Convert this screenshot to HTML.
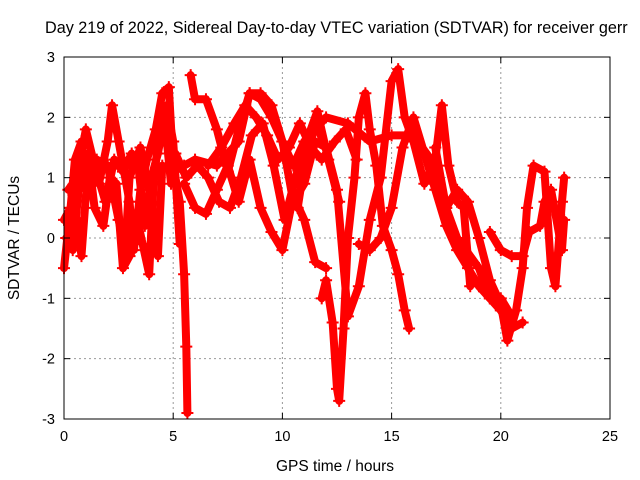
<!DOCTYPE html>
<html><head><meta charset="utf-8"><style>
body{margin:0;background:#fff}
svg{display:block;font-family:"Liberation Sans",sans-serif}
</style></head><body>
<svg id="chart" width="640" height="480">
<rect x="0" y="0" width="640" height="480" fill="#fff"/>
<text x="45" y="33" font-size="16.2" fill="#000">Day 219 of 2022, Sidereal Day-to-day VTEC variation (SDTVAR) for receiver gerr</text>
<g id="grid"></g><g id="series"></g><g id="axes"></g>
<text x="335" y="471" font-size="15.5" text-anchor="middle">GPS time / hours</text>
<text transform="translate(19,238) rotate(-90)" font-size="15.5" text-anchor="middle">SDTVAR / TECUs</text>
</svg>
<script>
const xTicks=[0,5,10,15,20,25];
const yTicks=[-3,-2,-1,0,1,2,3];
const s1=[[0,0.3],[0.3,0.5],[0.5,1.3],[0.8,1.6],[1,0.8],[1.3,1.1],[1.6,0.9],[2,1.6],[2.2,2.2],[2.5,1.6],[3,0.6],[3.2,-0.2],[3.5,0.8],[3.8,1.3],[4.2,1.8],[4.5,2.4],[4.8,2.5],[5,1.2],[5.3,0.6],[5.5,-0.6],[5.6,-1.8],[5.65,-2.9]];
const s2=[[0,-0.5],[0.3,0.5],[0.6,0.3],[0.8,-0.3],[1,0.7],[1.5,1.3],[2,1.2],[2.5,0.3],[2.8,-0.2],[3,1.0],[3.5,1.5],[4,0.6],[4.3,-0.3],[4.5,1.2],[5,1.1],[5.5,1.2],[6,1.3],[7,1.2],[8,1.6],[8.5,2.4],[9,2.3],[9.5,2.0],[10,1.6],[10.5,1.2],[11,1.6],[12,2.0],[13,1.9],[14,1.6],[15,1.7],[16,1.7],[17,1.2],[17.5,0.5],[18,0.0],[19,-0.5],[19.5,-1.0],[20,-1.2],[20.5,-1.5],[21,-1.4]];
const s3=[[5.8,2.7],[6,2.3],[6.5,2.3],[7,1.8],[7.5,1.1],[8,1.8],[8.5,2.4],[9,2.4],[9.5,2.2],[10,1.6],[10.5,0.6],[11,0.9],[11.5,1.6],[12,1.5]];
const s4=[[5.5,0.9],[6,0.5],[6.5,0.4],[7,0.8],[7.5,1.2],[8,0.6],[8.5,1.3],[9,0.5],[9.5,0.1],[10,-0.2],[10.5,0.7],[11,0.3],[11.5,-0.4],[12,-0.5]];
const s5=[[11.8,-1.0],[12,-0.7],[12.3,-1.4],[12.5,-2.5],[12.6,-2.7],[12.8,-1.5],[13,0.0],[13.3,1.0],[13.5,2.0],[13.8,2.4],[14,1.8],[14.3,1.2],[14.6,0.2],[15,-0.2],[15.3,-0.6],[15.6,-1.2],[15.8,-1.5]];
const s6=[[10.7,0.5],[11,1.2],[11.5,1.9],[12,1.5],[12.5,0.8],[13,-1.3],[13.5,-0.8],[14,0.3],[14.5,1.0],[15,2.6],[15.3,2.8],[15.6,2.0],[16,1.6],[16.5,0.9],[17,1.3],[17.3,2.2],[17.6,1.2],[18,0.6],[18.3,0.5],[18.6,-0.8]];
const s7=[[13.5,-0.1],[14,-0.2],[14.5,0.0],[15,0.5],[15.5,1.5],[16,2.0],[16.5,1.4],[17,0.8],[17.5,0.2],[18,-0.2],[18.5,-0.5],[19,-0.8],[19.5,-1.0],[20,-1.0],[20.5,-1.3]];
const s8=[[17,1.5],[17.5,0.5],[18,0.8],[18.5,0.6],[19,0.0],[19.5,-0.7],[20,-1.1],[20.3,-1.7],[20.7,-1.2],[21,-0.5],[21.2,0.5],[21.5,1.2],[22,1.1],[22.3,-0.5],[22.5,-0.8],[22.8,0.6],[22.9,1.0]];
const s9=[[19.5,0.1],[20,-0.2],[20.5,-0.3],[21,-0.3],[21.3,0.1],[21.8,0.2],[22,0.6],[22.3,0.8],[22.8,-0.2],[22.9,0.3]];
const s10=[[0.1,0.0],[0.4,-0.2],[0.7,0.9],[1.1,1.4],[1.4,0.5],[1.8,0.2],[2.1,1.0],[2.4,0.9],[2.7,-0.5],[3,-0.3],[3.3,0.4],[3.6,-0.1],[3.9,-0.6],[4.1,0.9],[4.4,1.9],[4.7,2.2],[5,1.6],[5.3,-0.1]];
const s11=[[0.2,0.8],[0.6,1.0],[1,1.8],[1.4,1.2],[1.9,0.6],[2.3,1.3],[2.7,1.1],[3.1,1.4],[3.4,1.2],[3.7,0.2],[4.0,1.0],[4.3,1.4],[4.6,2.0],[4.9,0.9]];
const s12=[[6.6,1.2],[7.2,1.5],[7.8,1.9],[8.3,2.2],[8.8,2.0],[9.3,1.7],[9.8,1.3],[10.3,1.5],[10.8,1.9],[11.3,1.5],[11.8,1.3],[12.4,1.6],[12.9,1.8],[13.4,1.3]];
const s13=[[5.1,1.4],[5.6,1.0],[6.1,1.2],[6.6,1.0],[7.1,0.6],[7.6,0.5],[8.1,1.0],[8.6,1.7],[9.1,1.9],[9.6,1.2],[10.1,0.3],[10.6,1.0],[11.1,1.6],[11.6,2.1],[12.1,1.3],[12.6,0.6]];
const allSeries=[s1,s2,s3,s4,s5,s6,s7,s8,s9,s10,s11,s12,s13];
const X0=64,X1=610,Y0=419,Y1=57;
function xs(v){return X0+(v-0)/(25-0)*(X1-X0);}
function ys(v){return Y0-(v+3)/6*(Y0-Y1);}
const NS="http://www.w3.org/2000/svg";
function mk(t,a,p){const e=document.createElementNS(NS,t);for(const k in a)e.setAttribute(k,a[k]);p.appendChild(e);return e;}
const grid=document.getElementById('grid'),axes=document.getElementById('axes'),ser=document.getElementById('series');
xTicks.forEach(t=>{
 if(t>0&&t<25){const g=mk('line',{x1:xs(t),x2:xs(t),y1:Y1,y2:Y0,stroke:'#999','stroke-dasharray':'2,3'},grid);
 
 }
 const tl=mk('text',{x:xs(t),y:Y0+22,'font-size':14.5,'text-anchor':'middle'},axes);tl.textContent=t;
 
 
 mk('line',{x1:xs(t),x2:xs(t),y1:Y0,y2:Y0-6,stroke:'#000'},axes);
 mk('line',{x1:xs(t),x2:xs(t),y1:Y1,y2:Y1+6,stroke:'#000'},axes);
});
yTicks.forEach(t=>{
 if(t>-3&&t<3){const g=mk('line',{x1:X0,x2:X1,y1:ys(t),y2:ys(t),stroke:'#999','stroke-dasharray':'2,3'},grid);
 
 }
 const tl=mk('text',{x:X0-9,y:ys(t)+5,'font-size':14.5,'text-anchor':'end'},axes);tl.textContent=t;
 
 
 mk('line',{x1:X0,x2:X0+6,y1:ys(t),y2:ys(t),stroke:'#000'},axes);
 mk('line',{x1:X1,x2:X1-6,y1:ys(t),y2:ys(t),stroke:'#000'},axes);
});
const frame=mk('rect',{x:X0,y:Y1,width:X1-X0,height:Y0-Y1,fill:'none',stroke:'#000'},axes);


allSeries.forEach((s,i)=>{
 const pl=mk('polyline',{points:s.map(p=>xs(p[0])+','+ys(p[1])).join(' '),fill:'none',stroke:'#f00','stroke-width':8,'stroke-linejoin':'round','stroke-linecap':'round'},ser);
 
 
 s.forEach(p=>{
  const x=xs(p[0]),y=ys(p[1]);
  const m=mk('path',{d:`M${x-6},${y}H${x+6}M${x},${y-6}V${y+6}`,stroke:'#f00','stroke-width':2},ser);
  
  
 });
});
</script>
</body></html>
